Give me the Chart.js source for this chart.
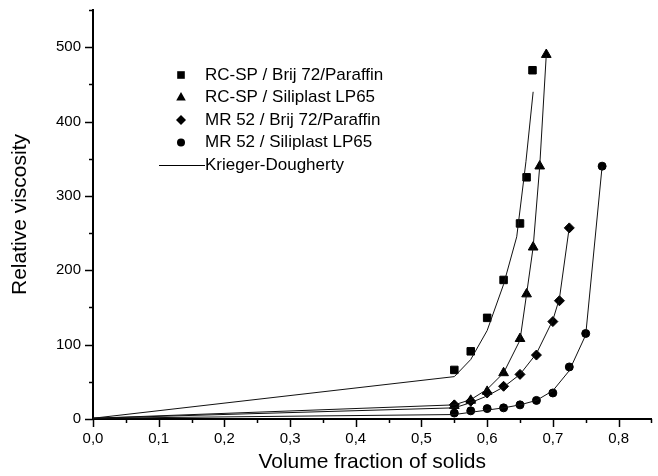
<!DOCTYPE html>
<html>
<head>
<meta charset="utf-8">
<script src="https://cdn.jsdelivr.net/npm/chart.js@4.4.0/dist/chart.umd.min.js"></script>
<style>
  html, body { margin: 0; padding: 0; background: #fff; }
  #wrap { width: 658px; height: 476px; }
</style>
</head>
<body>
<div id="wrap"><canvas id="chart" width="658" height="476"></canvas></div>
<script>
// measured points
const phiSquare = [0.55, 0.575, 0.6, 0.625, 0.65, 0.66, 0.669];
const etaSquare = [66, 91, 136, 187, 263, 325, 469];
const phiTri = [0.55, 0.575, 0.6, 0.625, 0.65, 0.66, 0.67, 0.68, 0.69];
const etaTri = [18, 25, 37, 62, 108, 168, 231, 340, 490];
const phiDia = [0.55, 0.575, 0.6, 0.625, 0.65, 0.675, 0.7, 0.71, 0.725];
const etaDia = [19, 24, 35, 44, 60, 86, 131, 159, 257];
const phiCirc = [0.55, 0.575, 0.6, 0.625, 0.65, 0.675, 0.7, 0.725, 0.75, 0.775];
const etaCirc = [8, 11, 14, 15, 19, 25, 35, 70, 115, 340];

// Krieger-Dougherty fit lines
const kdSquareX = [0, 0.55, 0.575, 0.6, 0.625, 0.645, 0.659, 0.67];
const kdSquareY = [1, 57, 80, 119, 181, 245, 346, 440];
const kdTriX = [0, 0.55, 0.575, 0.6, 0.625, 0.65, 0.66, 0.67, 0.68, 0.69];
const kdTriY = [1, 19, 26, 40, 62, 106, 168, 231, 340, 490];
const kdDiaX = [0, 0.55, 0.575, 0.6, 0.625, 0.65, 0.675, 0.7, 0.71, 0.725];
const kdDiaY = [1, 15, 22, 31, 43, 60, 88, 133, 162, 258];
const kdCircX = [0, 0.55, 0.575, 0.6, 0.625, 0.65, 0.675, 0.7, 0.725, 0.75, 0.775];
const kdCircY = [1, 6, 9, 12, 15, 19, 25, 38, 65, 113, 340];

const seriesNames = ['RC-SP / Brij 72/Paraffin', 'RC-SP / Siliplast LP65', 'MR 52 / Brij 72/Paraffin', 'MR 52 / Siliplast LP65'];
const fitName = 'Krieger-Dougherty';

const xTicks = [0, 0.1, 0.2, 0.3, 0.4, 0.5, 0.6, 0.7, 0.8];
const yTicks = [0, 100, 200, 300, 400, 500];

const FONT = '"Liberation Sans", Arial, Helvetica, sans-serif';

function pts(xs, ys) {
    return xs.map((x, i) => ({ x: x, y: ys[i] }));
}

function marks(label, xs, ys, style, r) {
    return {
        label: label,
        data: pts(xs, ys),
        showLine: false,
        pointStyle: style,
        pointRadius: r,
        pointBackgroundColor: '#000',
        pointBorderColor: '#000',
        pointBorderWidth: 1
    };
}

function fit(xs, ys) {
    return {
        label: fitName,
        data: pts(xs, ys),
        showLine: true,
        borderColor: '#111',
        borderWidth: 1,
        pointRadius: 0,
        tension: 0,
        fill: false
    };
}

function marker(ctx, style, x, y) {
    ctx.beginPath();
    if (style === 'rect') {
        ctx.rect(x - 3.8, y - 3.8, 7.6, 7.6);
    } else if (style === 'triangle') {
        ctx.moveTo(x, y - 5.5);
        ctx.lineTo(x + 4.8, y + 3);
        ctx.lineTo(x - 4.8, y + 3);
        ctx.closePath();
    } else if (style === 'rectRot') {
        ctx.moveTo(x, y - 5);
        ctx.lineTo(x + 5, y);
        ctx.lineTo(x, y + 5);
        ctx.lineTo(x - 5, y);
        ctx.closePath();
    } else {
        ctx.arc(x, y, 4, 0, Math.PI * 2);
    }
    ctx.fill();
}

// outside tick marks, major + minor
const tickMarks = {
    id: 'tickMarks',
    afterDraw(chart) {
        const ctx = chart.ctx;
        const xs = chart.scales.x, ys = chart.scales.y;
        const a = chart.chartArea;
        ctx.save();
        ctx.strokeStyle = '#000';
        ctx.lineWidth = 1.5;
        for (let i = 0; i <= 17; i++) {
            const px = Math.round(xs.getPixelForValue(i * 0.05)) + 0.5;
            const len = i % 2 === 0 ? 8 : 4;
            ctx.beginPath();
            ctx.moveTo(px, a.bottom);
            ctx.lineTo(px, a.bottom + len);
            ctx.stroke();
        }
        for (let i = 0; i <= 11; i++) {
            const py = Math.round(ys.getPixelForValue(i * 50)) + 0.5;
            const len = i % 2 === 0 ? 8 : 4;
            ctx.beginPath();
            ctx.moveTo(a.left, py);
            ctx.lineTo(a.left - len, py);
            ctx.stroke();
        }
        ctx.restore();
    }
};

const legendBox = {
    id: 'legendBox',
    afterDraw(chart) {
        const ctx = chart.ctx;
        const styles = ['rect', 'triangle', 'rectRot', 'circle'];
        const x0 = 181, tx = 205, y0 = 75, dy = 22.5;
        ctx.save();
        ctx.fillStyle = '#000';
        ctx.strokeStyle = '#000';
        ctx.font = '17px ' + FONT;
        ctx.textBaseline = 'middle';
        ctx.textAlign = 'left';
        seriesNames.forEach((name, i) => {
            marker(ctx, styles[i], x0, y0 + i * dy);
            ctx.fillText(name, tx, y0 + i * dy);
        });
        const ly = y0 + 4 * dy;
        ctx.lineWidth = 1;
        ctx.beginPath();
        ctx.moveTo(159, Math.round(ly) + 0.5);
        ctx.lineTo(tx, Math.round(ly) + 0.5);
        ctx.stroke();
        ctx.fillText(fitName, tx, ly);
        ctx.restore();
    }
};

new Chart(document.getElementById('chart'), {
    type: 'scatter',
    data: {
        datasets: [
            fit(kdSquareX, kdSquareY),
            fit(kdTriX, kdTriY),
            fit(kdDiaX, kdDiaY),
            fit(kdCircX, kdCircY),
            marks(seriesNames[0], phiSquare, etaSquare, 'rect', 5.3),
            marks(seriesNames[1], phiTri, etaTri, 'triangle', 5.6),
            marks(seriesNames[2], phiDia, etaDia, 'rectRot', 5),
            marks(seriesNames[3], phiCirc, etaCirc, 'circle', 4)
        ]
    },
    options: {
        responsive: false,
        animation: false,
        devicePixelRatio: 1,
        layout: { padding: { left: 0, top: 10, right: 6, bottom: 0 } },
        plugins: {
            legend: { display: false },
            tooltip: { enabled: false }
        },
        scales: {
            x: {
                type: 'linear',
                min: 0,
                max: 0.85,
                afterFit: function(s) {
                    s.height = 57;
                    s.paddingLeft = 0;
                    s.paddingRight = 0;
                },
                afterBuildTicks: function(s) { s.ticks = xTicks.map(v => ({ value: v })); },
                grid: { display: false, drawTicks: false },
                border: { display: true, color: '#000', width: 2 },
                ticks: {
                    color: '#000',
                    font: { family: FONT, size: 15 },
                    padding: 11,
                    maxRotation: 0,
                    autoSkip: false,
                    callback: function(v) { return v.toFixed(1).replace('.', ','); }
                },
                title: {
                    display: true,
                    text: 'Volume fraction of solids',
                    color: '#000',
                    font: { family: FONT, size: 21 },
                    padding: { top: 0, bottom: 1 }
                }
            },
            y: {
                type: 'linear',
                min: 0,
                max: 550,
                afterFit: function(s) {
                    s.width = 93;
                    s.paddingTop = 0;
                    s.paddingBottom = 0;
                },
                afterBuildTicks: function(s) { s.ticks = yTicks.map(v => ({ value: v })); },
                grid: { display: false, drawTicks: false },
                border: { display: true, color: '#000', width: 2 },
                ticks: {
                    color: '#000',
                    font: { family: FONT, size: 15 },
                    padding: 12,
                    autoSkip: false,
                    callback: function(v) { return String(v); }
                },
                title: {
                    display: true,
                    text: 'Relative viscosity',
                    color: '#000',
                    font: { family: FONT, size: 21 },
                    padding: { top: 8, bottom: 0 }
                }
            }
        }
    },
    plugins: [tickMarks, legendBox]
});
</script>
</body>
</html>
